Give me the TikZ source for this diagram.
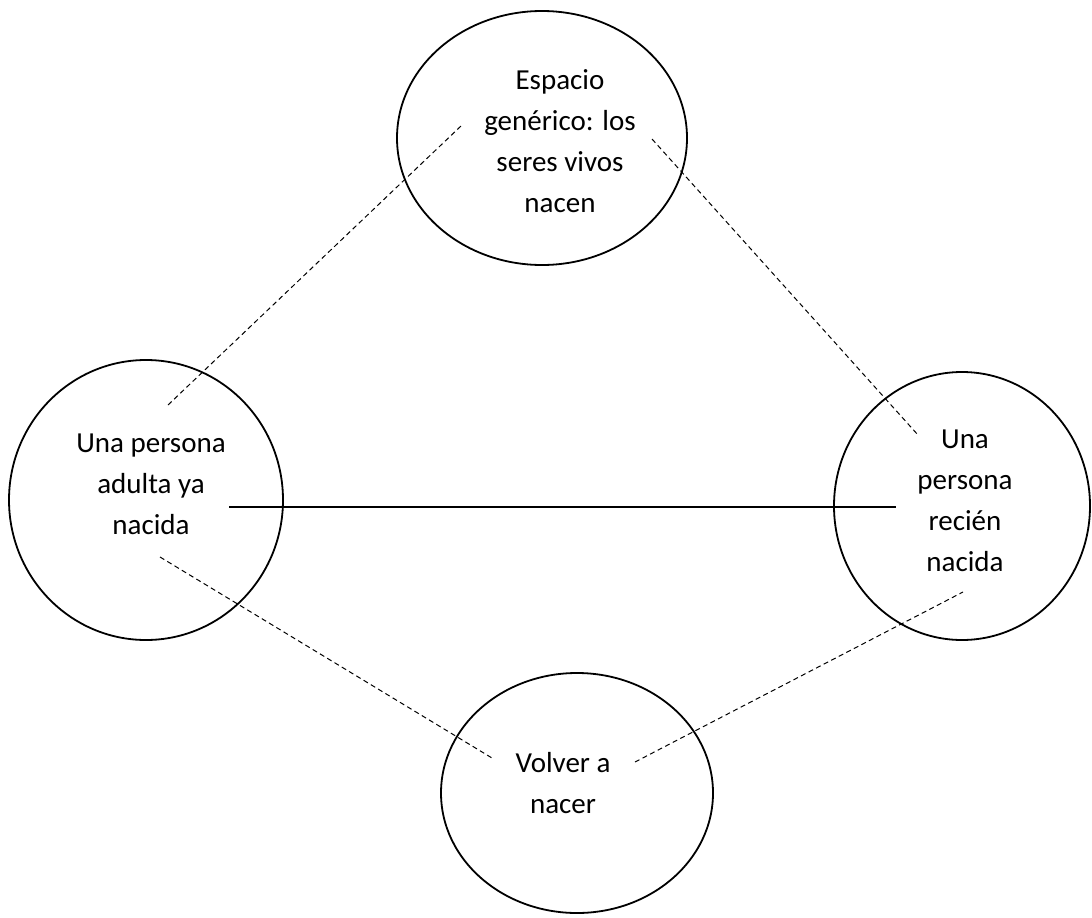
\documentclass[tikz,border=0pt]{standalone}
\usepackage{fontspec}
\setmainfont{Carlito}
\usetikzlibrary{shapes.geometric}
\tikzset{
	space/.style={draw, ellipse, line width=1.8pt, inner sep=0pt},
	spacetext/.style={align=center, font=\fontsize{29}{41}\selectfont},
	mapping/.style={dash pattern=on 5pt off 3.5pt, line width=1pt},
	counterpart/.style={line width=1.3pt}
}
\begin{document}
\begin{tikzpicture}[x=1pt,y=-1pt]
	\useasboundingbox (0,0) rectangle (1092,918);
	%Space coordinate
	\coordinate (generico) at (542,138) ;
	\coordinate (adulta) at (146,500) ;
	\coordinate (recien) at (962,506) ;
	\coordinate (volver) at (577,793) ;

	%Spaces
	\node[space, minimum width=290pt, minimum height=254pt] (genericoSpace) at (generico) {};
	\node[space, minimum width=274pt, minimum height=280pt] (adultaSpace) at (adulta) {};
	\node[space, minimum width=256pt, minimum height=268pt] (recienSpace) at (recien) {};
	\node[space, minimum width=272pt, minimum height=240pt] (volverSpace) at (volver) {};

	%Text
	\node[spacetext] (genericoText) at (560,141) {Espacio\\genérico: los\\seres vivos\\nacen};
	\node[spacetext] (adultaText) at (151,484) {Una persona\\adulta ya\\nacida};
	\node[spacetext] (recienText) at (965,501) {Una\\persona\\recién\\nacida};
	\node[spacetext] (volverText) at (563,783) {Volver a\\nacer};

	%Line ends
	\coordinate (adultaTop) at (168,405) ;
	\coordinate (genericoLeft) at (461,126) ;
	\coordinate (genericoRight) at (652,139) ;
	\coordinate (recienTop) at (918,435) ;
	\coordinate (adultaRight) at (229,507) ;
	\coordinate (recienLeft) at (896,507) ;
	\coordinate (adultaBottom) at (160,557) ;
	\coordinate (volverLeft) at (492,758) ;
	\coordinate (volverRight) at (635,762) ;
	\coordinate (recienBottom) at (963,592) ;

	%Lines
	\draw[mapping] (adultaTop)--(genericoLeft);%adulta-generico
	\draw[mapping] (genericoRight)--(recienTop);%generico-recien
	\draw[counterpart] (adultaRight)--(recienLeft);%adulta-recien
	\draw[mapping] (adultaBottom)--(volverLeft);%adulta-volver
	\draw[mapping] (volverRight)--(recienBottom);%volver-recien
\end{tikzpicture}
\end{document}
